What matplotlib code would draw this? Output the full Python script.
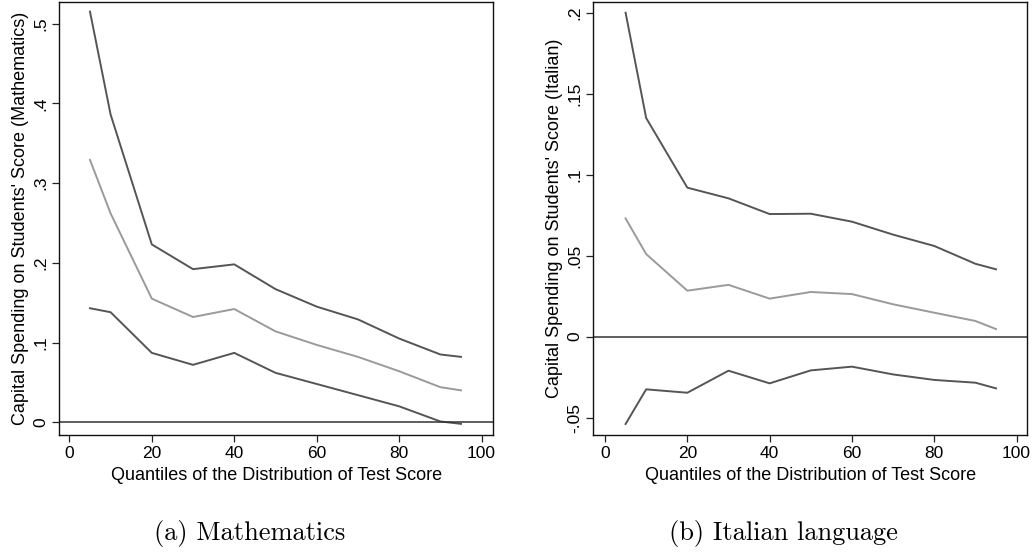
import matplotlib
matplotlib.use("Agg")
import matplotlib.pyplot as plt
from matplotlib.ticker import FuncFormatter

quantiles = [5, 10, 20, 30, 40, 50, 60, 70, 80, 90, 95]

math_upper = [0.515, 0.386, 0.223, 0.192, 0.198, 0.167, 0.145, 0.129, 0.105, 0.085, 0.082]
math_mid   = [0.329, 0.262, 0.155, 0.132, 0.142, 0.114, 0.097, 0.082, 0.064, 0.044, 0.040]
math_lower = [0.143, 0.138, 0.087, 0.072, 0.087, 0.062, 0.048, 0.034, 0.020, 0.001, -0.002]

ital_upper = [0.200, 0.135, 0.092, 0.0854, 0.0757, 0.0759, 0.071, 0.063, 0.056, 0.045, 0.0416]
ital_mid   = [0.073, 0.051, 0.0284, 0.032, 0.0235, 0.0276, 0.0263, 0.020, 0.0148, 0.0097, 0.0047]
ital_lower = [-0.0539, -0.0325, -0.0346, -0.021, -0.0288, -0.0208, -0.0185, -0.0233, -0.0267, -0.0284, -0.0319]

x_ticks = [0, 20, 40, 60, 80, 100]
math_yticks = [0, 0.1, 0.2, 0.3, 0.4, 0.5]
ital_yticks = [-0.05, 0, 0.05, 0.1, 0.15, 0.2]

xlabel = "Quantiles of the Distribution of Test Score"
math_ylabel = "Capital Spending on Students' Score (Mathematics)"
ital_ylabel = "Capital Spending on Students' Score (Italian)"
captions = ["(a) Mathematics", "(b) Italian language"]

DARK = "#555555"
LIGHT = "#9a9a9a"
SANS = ["Liberation Sans", "DejaVu Sans"]


def stata_fmt(v, pos):
    if abs(v) < 1e-12:
        return "0"
    s = ("%g" % v)
    s = s.replace("0.", ".")
    return s


fig = plt.figure(figsize=(10.36, 5.58), dpi=100)

panels = [
    (fig.add_axes([0.057, 0.2204, 0.419, 0.776]), math_upper, math_mid, math_lower,
     math_yticks, (-0.016, 0.527), (-2.5, 102.8), math_ylabel),
    (fig.add_axes([0.5727, 0.2204, 0.4189, 0.776]), ital_upper, ital_mid, ital_lower,
     ital_yticks, (-0.0607, 0.2066), (-2.84, 102.6), ital_ylabel),
]

for ax, up, mid, lo, yt, ylim, xlim, ylab in panels:
    ax.plot(quantiles, up, color=DARK, lw=1.4)
    ax.plot(quantiles, mid, color=LIGHT, lw=1.4)
    ax.plot(quantiles, lo, color=DARK, lw=1.4)
    ax.axhline(0, color="#333333", lw=1.1)
    ax.set_xlim(*xlim)
    ax.set_ylim(*ylim)
    ax.set_xticks(x_ticks)
    ax.set_yticks(yt)
    ax.yaxis.set_major_formatter(FuncFormatter(stata_fmt))
    ax.tick_params(direction="out", length=5, width=0.9, color="#222222",
                   labelsize=12.5, pad=3)
    for lab in ax.get_xticklabels() + ax.get_yticklabels():
        lab.set_family(SANS)
    for lab in ax.get_yticklabels():
        lab.set_rotation(90)
        lab.set_va("center")
    ax.set_xlabel(xlabel, family=SANS, fontsize=13, labelpad=4)
    ax.set_ylabel(ylab, family=SANS, fontsize=13, labelpad=3)
    for sp in ax.spines.values():
        sp.set_linewidth(1.0)
        sp.set_color("#111111")

fig.text(250 / 1036, 1 - 540 / 558, captions[0], family="cmr10", fontsize=19,
         ha="center", va="baseline")
fig.text(783 / 1036, 1 - 540 / 558, captions[1], family="cmr10", fontsize=19,
         ha="center", va="baseline")

fig.savefig("out.png", dpi=100)
